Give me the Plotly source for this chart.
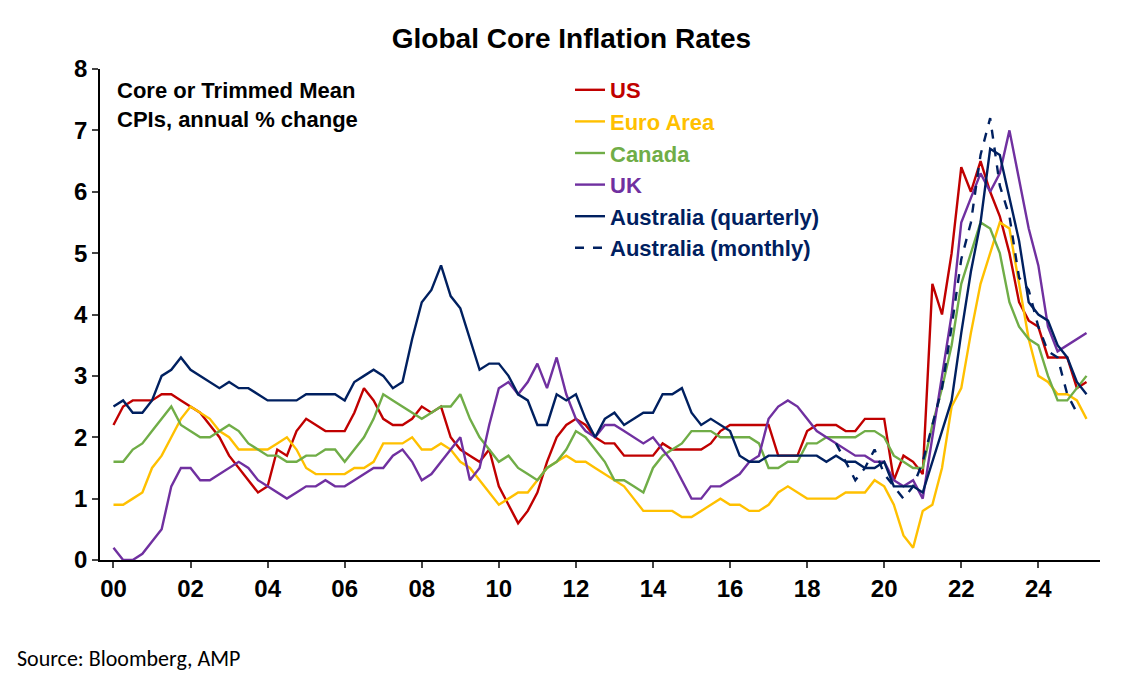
import numpy as np
import plotly.graph_objects as go

# quarterly readings, starting 2000 Q1
q_start = 2000.0
us = [2.2, 2.5, 2.6, 2.6, 2.6, 2.7, 2.7, 2.6, 2.5, 2.4, 2.2, 2.0,
      1.7, 1.5, 1.3, 1.1, 1.2, 1.8, 1.7, 2.1, 2.3, 2.2, 2.1, 2.1,
      2.1, 2.4, 2.8, 2.6, 2.3, 2.2, 2.2, 2.3, 2.5, 2.4, 2.5, 2.0,
      1.8, 1.7, 1.6, 1.8, 1.2, 0.9, 0.6, 0.8, 1.1, 1.6, 2.0, 2.2,
      2.3, 2.2, 2.0, 1.9, 1.9, 1.7, 1.7, 1.7, 1.7, 1.9, 1.8, 1.8,
      1.8, 1.8, 1.9, 2.1, 2.2, 2.2, 2.2, 2.2, 2.2, 1.7, 1.7, 1.7,
      2.1, 2.2, 2.2, 2.2, 2.1, 2.1, 2.3, 2.3, 2.3, 1.3, 1.7, 1.6,
      1.4, 4.5, 4.0, 5.0, 6.4, 6.0, 6.5, 6.0, 5.6, 5.0, 4.2, 3.9,
      3.8, 3.3, 3.3, 3.3, 2.8, 2.9]
euro = [0.9, 0.9, 1.0, 1.1, 1.5, 1.7, 2.0, 2.3, 2.5, 2.4, 2.3, 2.1,
        2.0, 1.8, 1.8, 1.8, 1.8, 1.9, 2.0, 1.8, 1.5, 1.4, 1.4, 1.4,
        1.4, 1.5, 1.5, 1.6, 1.9, 1.9, 1.9, 2.0, 1.8, 1.8, 1.9, 1.8,
        1.6, 1.5, 1.3, 1.1, 0.9, 1.0, 1.1, 1.1, 1.3, 1.5, 1.6, 1.7,
        1.6, 1.6, 1.5, 1.4, 1.3, 1.2, 1.0, 0.8, 0.8, 0.8, 0.8, 0.7,
        0.7, 0.8, 0.9, 1.0, 0.9, 0.9, 0.8, 0.8, 0.9, 1.1, 1.2, 1.1,
        1.0, 1.0, 1.0, 1.0, 1.1, 1.1, 1.1, 1.3, 1.2, 0.9, 0.4, 0.2,
        0.8, 0.9, 1.5, 2.5, 2.8, 3.7, 4.5, 5.0, 5.5, 5.4, 4.5, 3.6,
        3.0, 2.9, 2.7, 2.7, 2.6, 2.3]
canada = [1.6, 1.6, 1.8, 1.9, 2.1, 2.3, 2.5, 2.2, 2.1, 2.0, 2.0, 2.1,
          2.2, 2.1, 1.9, 1.8, 1.7, 1.7, 1.6, 1.6, 1.7, 1.7, 1.8, 1.8,
          1.6, 1.8, 2.0, 2.3, 2.7, 2.6, 2.5, 2.4, 2.3, 2.4, 2.5, 2.5,
          2.7, 2.3, 2.0, 1.8, 1.6, 1.7, 1.5, 1.4, 1.3, 1.5, 1.6, 1.8,
          2.1, 2.0, 1.8, 1.6, 1.3, 1.3, 1.2, 1.1, 1.5, 1.7, 1.8, 1.9,
          2.1, 2.1, 2.1, 2.0, 2.0, 2.0, 2.0, 1.9, 1.5, 1.5, 1.6, 1.6,
          1.9, 1.9, 2.0, 2.0, 2.0, 2.0, 2.1, 2.1, 2.0, 1.7, 1.6, 1.5,
          1.5, 2.2, 2.8, 3.5, 4.5, 5.0, 5.5, 5.4, 5.0, 4.2, 3.8, 3.6,
          3.5, 3.0, 2.6, 2.6, 2.8, 3.0]
uk = [0.2, 0.0, 0.0, 0.1, 0.3, 0.5, 1.2, 1.5, 1.5, 1.3, 1.3, 1.4,
      1.5, 1.6, 1.5, 1.3, 1.2, 1.1, 1.0, 1.1, 1.2, 1.2, 1.3, 1.2,
      1.2, 1.3, 1.4, 1.5, 1.5, 1.7, 1.8, 1.6, 1.3, 1.4, 1.6, 1.8,
      2.0, 1.3, 1.5, 2.2, 2.8, 2.9, 2.7, 2.9, 3.2, 2.8, 3.3, 2.7,
      2.3, 2.1, 2.0, 2.2, 2.2, 2.1, 2.0, 1.9, 2.0, 1.8, 1.6, 1.3,
      1.0, 1.0, 1.2, 1.2, 1.3, 1.4, 1.6, 1.7, 2.3, 2.5, 2.6, 2.5,
      2.3, 2.1, 2.0, 1.9, 1.8, 1.7, 1.7, 1.6, 1.6, 1.3, 1.2, 1.3,
      1.0, 2.0, 3.0, 4.0, 5.5, 5.9, 6.3, 6.0, 6.3, 7.0, 6.2, 5.4,
      4.8, 3.8, 3.4, 3.5, 3.6, 3.7]
aus_q = [2.5, 2.6, 2.4, 2.4, 2.6, 3.0, 3.1, 3.3, 3.1, 3.0, 2.9, 2.8,
         2.9, 2.8, 2.8, 2.7, 2.6, 2.6, 2.6, 2.6, 2.7, 2.7, 2.7, 2.7,
         2.6, 2.9, 3.0, 3.1, 3.0, 2.8, 2.9, 3.6, 4.2, 4.4, 4.8, 4.3,
         4.1, 3.6, 3.1, 3.2, 3.2, 3.0, 2.7, 2.6, 2.2, 2.2, 2.7, 2.6,
         2.7, 2.3, 2.0, 2.3, 2.4, 2.2, 2.3, 2.4, 2.4, 2.7, 2.7, 2.8,
         2.4, 2.2, 2.3, 2.2, 2.1, 1.7, 1.6, 1.6, 1.7, 1.7, 1.7, 1.7,
         1.7, 1.7, 1.6, 1.7, 1.6, 1.6, 1.5, 1.5, 1.6, 1.2, 1.2, 1.2,
         1.1, 1.6, 2.1, 2.6, 3.7, 4.7, 5.5, 6.7, 6.6, 5.9, 5.2, 4.2,
         4.0, 3.9, 3.5, 3.3, 2.9, 2.7]
# monthly series, quarterly readings from 2018 Q4
m_start = 2018.75
aus_m = [1.9, 1.6, 1.3, 1.5, 1.8, 1.4, 1.2, 1.0, 1.2, 1.6, 2.2, 2.8,
         3.8, 4.9, 5.5, 6.6, 7.2, 6.1, 5.6, 4.6, 4.4, 3.8, 3.4, 3.3,
         2.7, 2.4]

def years(start, n):
    return start + np.arange(n) * 0.25

fig = go.Figure()
series = [("US", us, "#c00000"), ("Euro Area", euro, "#ffc000"),
          ("Canada", canada, "#70ad47"), ("UK", uk, "#7030a0"),
          ("Australia (quarterly)", aus_q, "#002060")]
for name, vals, col in series:
    fig.add_trace(go.Scatter(x=years(q_start, len(vals)), y=vals, mode="lines",
                             name=f'<span style="color:{col}">{name}</span>',
                             line=dict(color=col, width=2.4)))
fig.add_trace(go.Scatter(x=years(m_start, len(aus_m)), y=aus_m, mode="lines",
                         name='<span style="color:#002060">Australia (monthly)</span>',
                         line=dict(color="#002060", width=2.4, dash="dash")))

fig.update_layout(
    width=1127, height=681, plot_bgcolor="white", paper_bgcolor="white",
    font=dict(family="Liberation Sans, Arial", size=20, color="black"),
    title=dict(text="<b>Global Core Inflation Rates</b>", x=0.5, y=0.956,
               yanchor="middle", font=dict(size=28)),
    margin=dict(l=92, r=35, t=61, b=129),
    legend=dict(x=0.47, y=1.0, bgcolor="rgba(0,0,0,0)",
                font=dict(size=22, family="Liberation Sans, Arial", weight="bold"),
                tracegroupgap=0, itemwidth=30),
    annotations=[
        dict(text="<b>Core or Trimmed Mean<br>CPIs, annual % change</b>",
             xref="paper", yref="paper", x=0.015, y=0.985, showarrow=False,
             xanchor="left", yanchor="top", align="left", font=dict(size=22)),
        dict(text="Source: Bloomberg, AMP", xref="paper", yref="paper",
             x=-0.085, y=-0.2, showarrow=False, xanchor="left", yanchor="middle",
             font=dict(size=22, family="Carlito, Liberation Sans")),
    ],
)
fig.update_xaxes(range=[1999.65, 2025.6], tickvals=list(range(2000, 2025, 2)),
                 ticktext=[f"{y % 100:02d}" for y in range(2000, 2025, 2)],
                 showline=True, linecolor="black", linewidth=1.5, ticks="outside",
                 tickwidth=1.5, ticklen=6, showgrid=False, zeroline=False,
                 tickfont=dict(size=24, weight="bold"))
fig.update_yaxes(range=[0, 8], dtick=1, showline=True, linecolor="black",
                 linewidth=1.5, ticks="outside", tickwidth=1.5, ticklen=6,
                 showgrid=False, zeroline=False, tickfont=dict(size=24, weight="bold"))
fig.write_html("out.html")
